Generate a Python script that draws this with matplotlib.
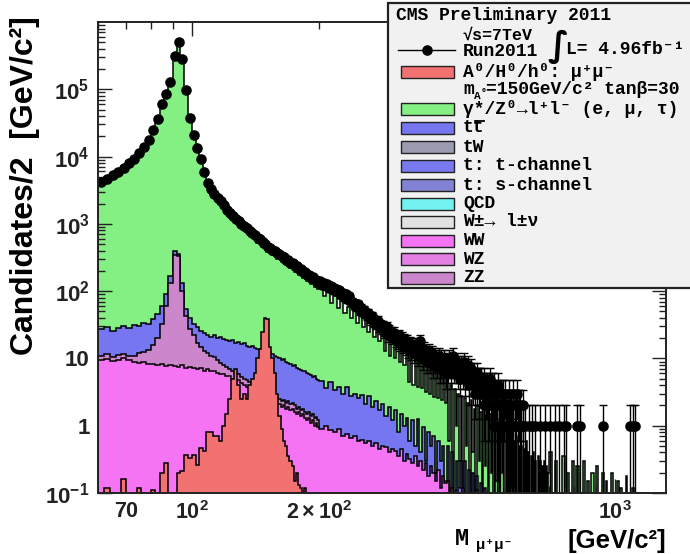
import numpy as np
import matplotlib
matplotlib.use("Agg")
import matplotlib.pyplot as plt
from matplotlib.patches import Rectangle
from matplotlib.lines import Line2D
from matplotlib.ticker import FixedLocator, FixedFormatter, NullFormatter, LogLocator

# ---------------- data (events per 2 GeV) ----------------
# data: 2 GeV bins 60-200
data_fine = [4200, 4700, 5300, 5900, 6800, 7900, 9300, 11200, 14000, 17500,
             24500, 36000, 60000, 85000, 130000, 310000, 500000, 280000, 97000, 38000,
             21000, 13300, 9100, 5800, 4100, 3300, 2800, 2450, 2150, 1900,
             1600, 1430, 1300, 1190, 1090, 1000, 925, 855, 790, 720,
             672, 612, 589, 534, 507, 455, 441, 404, 396, 366,
             356, 329, 324, 294, 291, 264, 261, 236, 236, 212,
             214, 192, 193, 174, 176, 158, 161, 145, 147, 131]
# data: 2 GeV bins 200-400
data_mid = [140, 125, 131, 118, 127, 112, 121, 104, 113, 109,
            98, 105, 88, 95, 81, 90, 76, 84, 72, 70,
            66, 61, 58, 64, 52, 57, 49, 53, 46, 44,
            47, 40, 38, 43, 35, 37, 33, 36, 30, 32,
            28, 31, 25, 27, 29, 22, 26, 24, 21, 23,
            24, 19, 21, 18, 22, 17, 20, 16, 19, 18,
            15, 18, 14, 17, 13, 16, 15, 12, 16, 13,
            14, 11, 13, 18, 12, 10, 14, 11, 12, 9,
            11, 13, 9, 10, 12, 8, 11, 9, 10, 8,
            9, 11, 7, 10, 8, 9, 7, 10, 8, 6]
# data: 2 GeV bins 400-610
data_hi = [9, 7, 10, 8, 6, 9, 8, 11, 7, 8,
           7, 9, 6, 8, 7, 5, 8, 7, 6, 9,
           6, 5, 7, 6, 8, 5, 4, 6, 7, 5,
           5, 4, 6, 3, 5, 6, 4, 5, 3, 5,
           4, 5, 3, 4, 2, 5, 4, 3, 4, 3,
           3, 4, 2, 5, 3, 2, 4, 3, 1, 4,
           2, 3, 1, 3, 4, 2, 2, 1, 3, 2,
           2, 1, 3, 2, 0, 3, 1, 2, 2, 1,
           3, 1, 2, 0, 2, 1, 3, 1, 0, 2,
           1, 2, 0, 3, 1, 0, 2, 1, 2, 0,
           1, 0, 2, 1, 0]
# isolated high-mass events (bin centre, count)
sparse_mass = [614, 625, 637, 648, 666, 684, 703, 722, 736, 756, 767, 815, 827, 939, 1085, 1101, 1114]
sparse_count = [1] * 17

# Drell-Yan (= full stack top): 2 GeV 60-200, 4 GeV 200-700, 10 GeV 700-1320
dy_fine = [3850, 4300, 4850, 5400, 6250, 7250, 8550, 10300, 12900, 16100,
           22500, 33500, 56000, 80000, 122000, 295000, 475000, 262000, 90000, 35000,
           19300, 12200, 8350, 5300, 3750, 3020, 2560, 2240, 1960, 1730,
           1460, 1300, 1185, 1085, 995, 910, 842, 778, 720, 656,
           590, 520, 505, 450, 440, 385, 380, 340, 340, 305,
           305, 275, 275, 245, 245, 220, 218, 195, 195, 175,
           178, 158, 160, 142, 145, 128, 132, 117, 120, 106]
dy_mid = [119, 85, 99, 66, 84, 56, 71, 47, 59, 40,
          50, 34, 43, 29, 37, 25, 32, 21, 27, 18,
          24, 13, 21, 11, 19, 10, 17, 9, 15, 8,
          13, 4.4, 12, 4.0, 11, 3.8, 10, 3.6, 9.4, 3.2,
          8.8, 3.0, 8.2, 2.7, 7.7, 2.6, 7.2, 2.4, 6.8, 2.2]
dy_hi = [5, 0.6, 4, 0, 3.5, 1.0, 3, 0.3, 2.8, 0,
         2.6, 0.5, 2.2, 0, 2.4, 0.4, 1.8, 0, 2.0, 0.3,
         1.6, 0, 1.9, 0.25, 1.4, 0, 1.5, 0.2, 1.2, 0,
         1.3, 0.15, 0.9, 0, 1.1, 0.2, 0.8, 0, 0.9, 0.1,
         0.7, 0, 0.8, 0.12, 0.6, 0, 0.7, 0, 0.5, 0.1,
         0.5, 0, 0.45, 0, 0.6, 0.08, 0.4, 0, 0.35, 0,
         0.4, 0, 0.3, 0.06, 0.35, 0, 0.3, 0, 0.25, 0,
         0.3, 0, 0.25, 0, 0.2]
dy_tail = [0.4, 0, 0.3, 0, 0, 0.35, 0, 0.2, 0, 0.3,
           0, 0.25, 0, 0, 0.3, 0, 0.15, 0, 0.2, 0,
           0.25, 0, 0, 0.2, 0, 0.15, 0, 0, 0.2, 0,
           0, 0.15, 0, 0.12, 0, 0, 0.18, 0, 0.1, 0,
           0.12, 0, 0, 0.1, 0, 0.08, 0, 0, 0.1, 0,
           0, 0.07, 0, 0, 0.06, 0, 0, 0, 0.05, 0, 0, 0]

# top quark (blue) stack top: 2 GeV 60-200, 5 GeV 200-500
top_fine = [27, 29, 26, 28, 30, 28, 31, 30, 34, 33,
            38, 45, 60, 90, 170, 390, 360, 130, 55, 40,
            33, 29, 26, 24, 22, 21, 22, 20, 20.5, 19.5,
            19, 18, 18.5, 17, 17.5, 16.5, 17, 15.5, 15, 15.5,
            14.5, 14, 13.5, 13.8, 12.5, 12, 12.5, 11.5, 11, 10.5,
            10, 9.5, 9.8, 9.0, 8.6, 8.2, 7.8, 8.0, 7.2, 7.0,
            6.8, 6.5, 6.6, 6.0, 5.8, 5.6, 5.3, 5.5, 5.0, 4.8]
top_mid = [4.6, 3.6, 4.5, 3.4, 3.8, 3.0, 3.8, 2.8, 3.0, 2.6,
           2.9, 2.1, 2.8, 1.9, 2.3, 1.7, 2.1, 1.4, 1.9, 1.2,
           1.7, 0.8, 1.5, 1.0, 1.3, 0.6, 1.2, 0.5, 1.25, 0.4,
           0.95, 0.3, 0.8, 0.5, 0.7, 0.2, 0.6, 0.3, 0.5, 0.15,
           0.5, 0.1, 0.4, 0, 0.3, 0.12, 0.3, 0, 0.3, 0,
           0.22, 0, 0.2, 0, 0.18, 0, 0.14, 0, 0.12, 0]

# ZZ/WZ stack top: 2 GeV 60-200
zz_fine = [11, 11.5, 10.5, 11.2, 11.8, 11, 10.8, 12, 12.5, 13.5,
           16, 20, 32, 60, 130, 340, 330, 100, 42, 27,
           22, 17, 15, 13, 12, 11, 10.5, 9.5, 8.5, 8,
           7.5, 7.0, 6.6, 6.0, 5.8, 5.3, 5.0, 4.7, 4.4, 4.2,
           4.0, 3.7, 3.6, 3.4, 3.3, 3.1, 3.0, 2.9, 2.7, 2.6,
           2.5, 2.3, 2.4, 2.2, 2.3, 2.1, 2.2, 2.0, 1.8, 1.9,
           1.7, 1.8, 1.6, 1.5, 1.6, 1.4, 1.5, 1.3, 1.35, 1.2]

# WW (magenta): 2 GeV 60-200, 5 GeV 200-500
ww_fine = [9.5, 9.8, 9.2, 9.6, 10, 9.4, 9.0, 8.6, 8.8, 8.4,
           8.2, 8.0, 8.4, 7.8, 7.9, 7.7, 7.4, 7.9, 7.2, 7.5,
           7.3, 7.0, 7.2, 6.6, 6.9, 6.4, 6.6, 6.1, 5.9, 5.8,
           5.4, 5.5, 5.0, 4.6, 4.8, 4.3, 4.0, 3.8, 3.6, 3.4,
           3.2, 3.0, 2.9, 2.7, 2.6, 2.5, 2.4, 2.3, 2.2, 2.1,
           2.1, 1.9, 2.0, 1.8, 1.9, 1.7, 1.8, 1.6, 1.5, 1.6,
           1.4, 1.5, 1.3, 1.2, 1.3, 1.1, 1.2, 1.0, 1.1, 0.95]
ww_mid = [0.9, 1.0, 0.85, 0.8, 0.9, 0.7, 0.75, 0.65, 0.7, 0.6,
          0.62, 0.55, 0.6, 0.5, 0.55, 0.45, 0.5, 0.48, 0.4, 0.45,
          0.42, 0.35, 0.45, 0.3, 0.38, 0.32, 0.28, 0.35, 0.25, 0.3,
          0.22, 0.28, 0.18, 0.25, 0.2, 0.15, 0.22, 0.12, 0.18, 0.14,
          0.15, 0.1, 0.12, 0.08, 0.11, 0, 0.09, 0.12, 0, 0.1,
          0, 0.08, 0, 0, 0.11, 0, 0, 0, 0, 0]

# signal A/H/h -> mumu (mA = 150): 2 GeV 60-200
sig_fine = [0, 0.12, 0, 0, 0.16, 0, 0, 0.12, 0, 0,
            0.11, 0, 0.2, 0.28, 0, 0.1, 0.2, 0.21, 0.37, 0.33,
            0.37, 0.26, 0.47, 0.42, 0.81, 0.8, 0.7, 0.7, 0.6, 1.0,
            1.5, 2.5, 5, 7, 4, 2.5, 3, 2.5, 4, 5,
            6, 10, 14, 25, 40, 38, 15, 10, 6, 3,
            1.4, 0.9, 0.6, 0.5, 0.35, 0.3, 0.25, 0.15, 0.2, 0.13,
            0.12, 0, 0.12, 0, 0, 0, 0, 0, 0, 0]

legend_labels = ["A\u2070/H\u2070/h\u2070: \u03bc\u207a\u03bc\u207b",
                 "\u03b3*/Z\u2070\u2192l\u207al\u207b (e, \u03bc, \u03c4)",
                 "tt", "tW", "t: t-channel", "t: s-channel", "QCD",
                 "W\u00b1\u2192 l\u00b1\u03bd", "WW", "WZ", "ZZ"]

# ---------------- style ----------------
plt.rcParams["font.family"] = ["Liberation Sans", "DejaVu Sans"]
plt.rcParams["font.weight"] = "bold"
plt.rcParams["mathtext.fontset"] = "custom"
plt.rcParams["mathtext.rm"] = "Liberation Sans:bold"
plt.rcParams["mathtext.bf"] = "Liberation Sans:bold"
plt.rcParams["mathtext.it"] = "Liberation Sans:bold"
plt.rcParams["mathtext.default"] = "rm"

C_SIG = "#f27272"
C_DY = "#84f084"
C_TT = "#7676f0"
C_TW = "#9c9cb0"
C_TCH = "#7a7af0"
C_SCH = "#8282d4"
C_QCD = "#74f2f2"
C_W = "#e2e2e2"
C_WW = "#f474f4"
C_WZ = "#e480e4"
C_ZZ = "#cc86cc"

W, H = 690, 554
fig = plt.figure(figsize=(6.9, 5.54), dpi=100)
ax = fig.add_axes([98 / W, 1 - 493 / H, (666 - 98) / W, (493 - 22) / H])
ax.set_xscale("log")
ax.set_yscale("log")
ax.set_xlim(60, 1320)
ax.set_ylim(0.1, 1e6)

e_fine = np.arange(60, 201, 2)
e_dy = np.concatenate([np.arange(60, 200, 2), np.arange(200, 700, 4),
                       np.arange(700, 1321, 10)])
e_b = np.concatenate([np.arange(60, 200, 2), np.arange(200, 501, 5)])

BASE = 1e-3


def layer(edges, vals, color, z):
    v = np.asarray(vals, float)
    v = np.where(v > 0, v, BASE)
    ax.stairs(v, edges, baseline=BASE, fill=True, facecolor=color,
              edgecolor="black", linewidth=1.1, zorder=z)


layer(e_dy, dy_fine + dy_mid + dy_hi + dy_tail, C_DY, 1)
layer(e_b, top_fine + top_mid, C_TT, 2)
layer(e_fine, zz_fine, C_ZZ, 3)
layer(e_b, ww_fine + ww_mid, C_WW, 4)
layer(e_fine, sig_fine, C_SIG, 5)

# data points
e_data = np.concatenate([np.arange(60, 200, 2), np.arange(200, 400, 2), np.arange(400, 611, 2)])
xc = 0.5 * (e_data[:-1] + e_data[1:])
dx = np.concatenate([xc, np.array(sparse_mass, float)])
dy = np.concatenate([data_fine, data_mid, data_hi, sparse_count]).astype(float)
m = dy > 0
dx, dy = dx[m], dy[m]
err = np.sqrt(dy)
lo = np.minimum(err, dy - 1e-4)
ax.errorbar(dx, dy, yerr=[lo, err], fmt="o", color="black", ms=6.6,
            elinewidth=1.0, capsize=2.6, capthick=1.0, zorder=6)

# axes styling
for s in ax.spines.values():
    s.set_linewidth(1.4)
    s.set_color("#222222")
    s.set_zorder(10)
ax.tick_params(which="both", direction="in", top=True, right=True, width=1.0,
               colors="#222222")
ax.tick_params(which="major", length=10, labelsize=16)
ax.tick_params(axis="y", which="both", pad=6)
ax.tick_params(axis="x", which="both", pad=6, labelsize=15.5)
ax.tick_params(which="minor", length=5)

ax.yaxis.set_major_locator(FixedLocator([0.1, 1, 10, 100, 1e3, 1e4, 1e5]))
ax.yaxis.set_major_formatter(FixedFormatter([r"$10^{-1}$", "1", "10", r"$10^{2}$",
                                             r"$10^{3}$", r"$10^{4}$", r"$10^{5}$"]))
ax.yaxis.set_minor_locator(LogLocator(base=10, subs=np.arange(2, 10), numticks=20))
ax.yaxis.set_minor_formatter(NullFormatter())

ax.xaxis.set_major_locator(FixedLocator([100, 1000]))
ax.xaxis.set_major_formatter(FixedFormatter([r"$10^{2}$", r"$10^{3}$"]))
minor_x = [60, 70, 80, 90, 200, 300, 400, 500, 600, 700, 800, 900]
ax.xaxis.set_minor_locator(FixedLocator(minor_x))
ax.xaxis.set_minor_formatter(FixedFormatter(["", "70", "", "", r"$2\times10^{2}$",
                                             "", "", "", "", "", "", ""]))

# axis titles
fig.text(25 / W, 1 - 16 / H, "Candidates/2  [GeV/c\u00b2]", rotation=90,
         ha="center", va="top", fontsize=23, fontweight="bold",
         family=["Liberation Sans", "DejaVu Sans"])
fig.text(666 / W, 1 - 548 / H, "[GeV/c\u00b2]", ha="right", va="baseline",
         fontsize=18.5, fontweight="bold", family=["Liberation Sans", "DejaVu Sans"])
fig.text(455 / W, 1 - 545 / H, "M", ha="left", va="baseline", fontsize=17,
         fontweight="bold", family=["Liberation Mono", "DejaVu Sans Mono"])
fig.text(476 / W, 1 - 549 / H, "\u03bc\u207a\u03bc\u207b", ha="left", va="baseline",
         fontsize=11, fontweight="bold", family=["Liberation Mono", "DejaVu Sans Mono"])

# ---------------- legend ----------------
MONO = ["Liberation Mono", "DejaVu Sans Mono"]
fig.add_artist(Rectangle((388 / W, 1 - 288 / H), (700 - 388) / W, (288 - 3) / H,
                         transform=fig.transFigure, facecolor="#f1f1f1",
                         edgecolor="#222222", linewidth=1.6, zorder=20))


def ftxt(x, y, s, size=13, family=MONO):
    fig.text(x / W, 1 - y / H, s, ha="left", va="center",
             fontsize=size, fontweight="bold", family=family, zorder=21)


ftxt(396, 15, "CMS Preliminary 2011")
ftxt(463, 35, "\u221as=7TeV", size=12)
ftxt(463, 51, "Run2011", size=13)
fig.text(547 / W, 1 - 47 / H, "\u222b", ha="left", va="center", fontsize=25,
         family=["DejaVu Sans"], zorder=21)
ftxt(566, 49, "L= 4.96fb\u207b\u00b9")
fig.add_artist(Line2D([398 / W, 455 / W], [1 - 50 / H, 1 - 50 / H],
                      transform=fig.transFigure, color="black", lw=1.0, zorder=21))
fig.add_artist(Line2D([427 / W], [1 - 50 / H], transform=fig.transFigure,
                      marker="o", ms=6.6, color="black", zorder=22))

rows_y = [72, 109, 128, 147, 166, 185, 203.5, 222, 240.5, 259.5, 278]
row_cols = [C_SIG, C_DY, C_TT, C_TW, C_TCH, C_SCH, C_QCD, C_W, C_WW, C_WZ, C_ZZ]
for yy, cc, lab in zip(rows_y, row_cols, legend_labels):
    fig.add_artist(Rectangle((401 / W, 1 - (yy + 6) / H), 53 / W, 12 / H,
                             transform=fig.transFigure, facecolor=cc,
                             edgecolor="#222222", linewidth=1.0, zorder=21))
    ftxt(463, yy, lab)

# overline for t-bar
fig.add_artist(Line2D([475 / W, 484 / W], [1 - 120.5 / H, 1 - 120.5 / H],
                      transform=fig.transFigure, color="black", lw=1.3, zorder=22))
# m_A line
ftxt(463, 90, "m")
ftxt(474, 96, "A", size=8)
ftxt(481, 93, "\u2070", size=7)
ftxt(486, 90, "=150GeV/c\u00b2 tan\u03b2=30")

fig.savefig("out.png", dpi=100)
